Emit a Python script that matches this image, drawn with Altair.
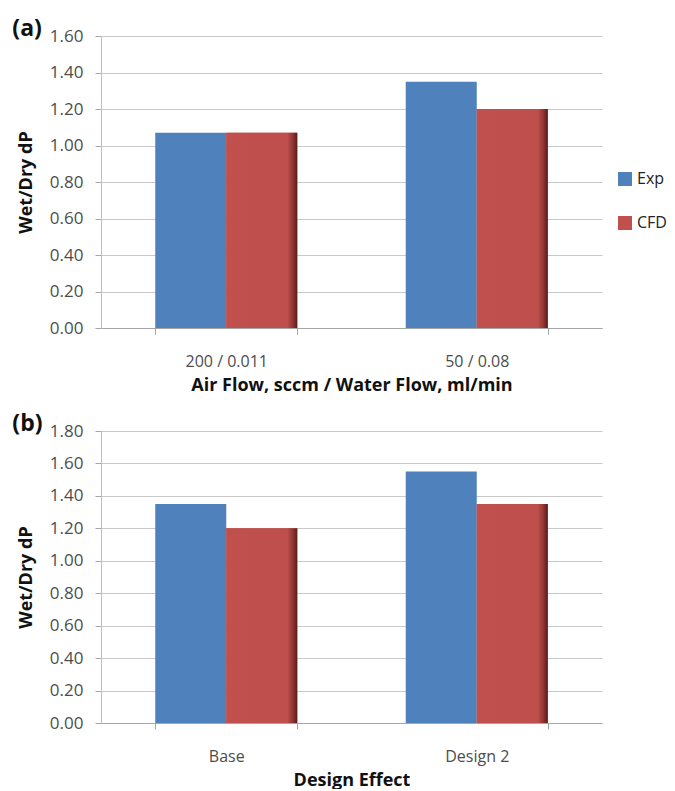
import altair as alt
import pandas as pd

series = ["Exp", "CFD"]
colors = ["#4F81BD", "#C0504D"]

cats_a = ["200 / 0.011", "50 / 0.08"]
exp_a = [1.07, 1.35]
cfd_a = [1.07, 1.20]
ticks_a = [0.0, 0.2, 0.4, 0.6, 0.8, 1.0, 1.2, 1.4, 1.6]

cats_b = ["Base", "Design 2"]
exp_b = [1.35, 1.55]
cfd_b = [1.20, 1.35]
ticks_b = [0.0, 0.2, 0.4, 0.6, 0.8, 1.0, 1.2, 1.4, 1.6, 1.8]

FONT = "Open Sans"

red_grad = alt.Gradient(
    gradient="linear", x1=0, x2=1, y1=0, y2=0,
    stops=[
        alt.GradientStop(offset=0, color="#C0504D"),
        alt.GradientStop(offset=0.86, color="#BE4F4C"),
        alt.GradientStop(offset=0.94, color="#8E3431"),
        alt.GradientStop(offset=1, color="#5A1B1A"),
    ],
)


def panel(cats, exp, cfd, ymax, yticks, xtitle, label):
    df = pd.DataFrame({
        "cat": cats * 2,
        "series": [series[0]] * len(cats) + [series[1]] * len(cats),
        "value": exp + cfd,
    })
    x = alt.X(
        "cat:N", sort=cats, title=xtitle,
        scale=alt.Scale(paddingInner=0.433, paddingOuter=0.2165),
        axis=alt.Axis(labelAngle=0, tickBand="extent", tickSize=6,
                      labelPadding=19, titlePadding=7, grid=False),
    )
    xo = alt.XOffset("series:N", sort=series,
                     scale=alt.Scale(domain=series, paddingInner=0, paddingOuter=0))
    y = alt.Y(
        "value:Q", title="Wet/Dry dP",
        scale=alt.Scale(domain=[0, ymax], nice=False, zero=True),
        axis=alt.Axis(values=yticks, format=".2f", tickSize=6, labelFontSize=17,
                      labelPadding=12, titlePadding=14),
    )
    bars = alt.Chart(df).mark_bar().encode(
        x=x, xOffset=xo, y=y,
        color=alt.Color(
            "series:N", sort=series,
            scale=alt.Scale(domain=series, range=colors),
            legend=alt.Legend(title=None, orient="none", legendX=516, legendY=135,
                              symbolType="square", symbolSize=196,
                              symbolStrokeWidth=0, labelFontSize=16,
                              labelFont=FONT, labelColor="#222222",
                              rowPadding=28, labelOffset=4),
        ),
    )
    overlay = alt.Chart(df).transform_filter(
        alt.datum.series == "CFD"
    ).mark_bar(color=red_grad).encode(x=x, xOffset=xo, y=y)
    return alt.layer(bars, overlay).properties(
        width=501, height=292,
        title=alt.TitleParams(label, anchor="start", fontSize=23, fontWeight="bold",
                              font=FONT, color="#111111", dx=-5, offset=-14),
    )


pa = panel(cats_a, exp_a, cfd_a, 1.6, ticks_a,
           "Air Flow, sccm / Water Flow, ml/min", "(a)")
pb = panel(cats_b, exp_b, cfd_b, 1.8, ticks_b, "Design Effect", "(b)")

chart = alt.vconcat(pa, pb, spacing=19).properties(
    padding={"left": 4, "top": 10, "right": 0, "bottom": 0}
).configure_view(stroke=None).configure_axis(
    labelFont=FONT, labelFontSize=16, labelColor="#4D4D4D",
    titleFont=FONT, titleFontSize=18, titleFontWeight="bold", titleColor="#111111",
    domainColor="#A6A6A6", tickColor="#A6A6A6", gridColor="#C9C9C9",
).configure_axisY(domainColor="#BFBFBF")

chart.save("out.html", embed_options={"renderer": "svg", "actions": False})
